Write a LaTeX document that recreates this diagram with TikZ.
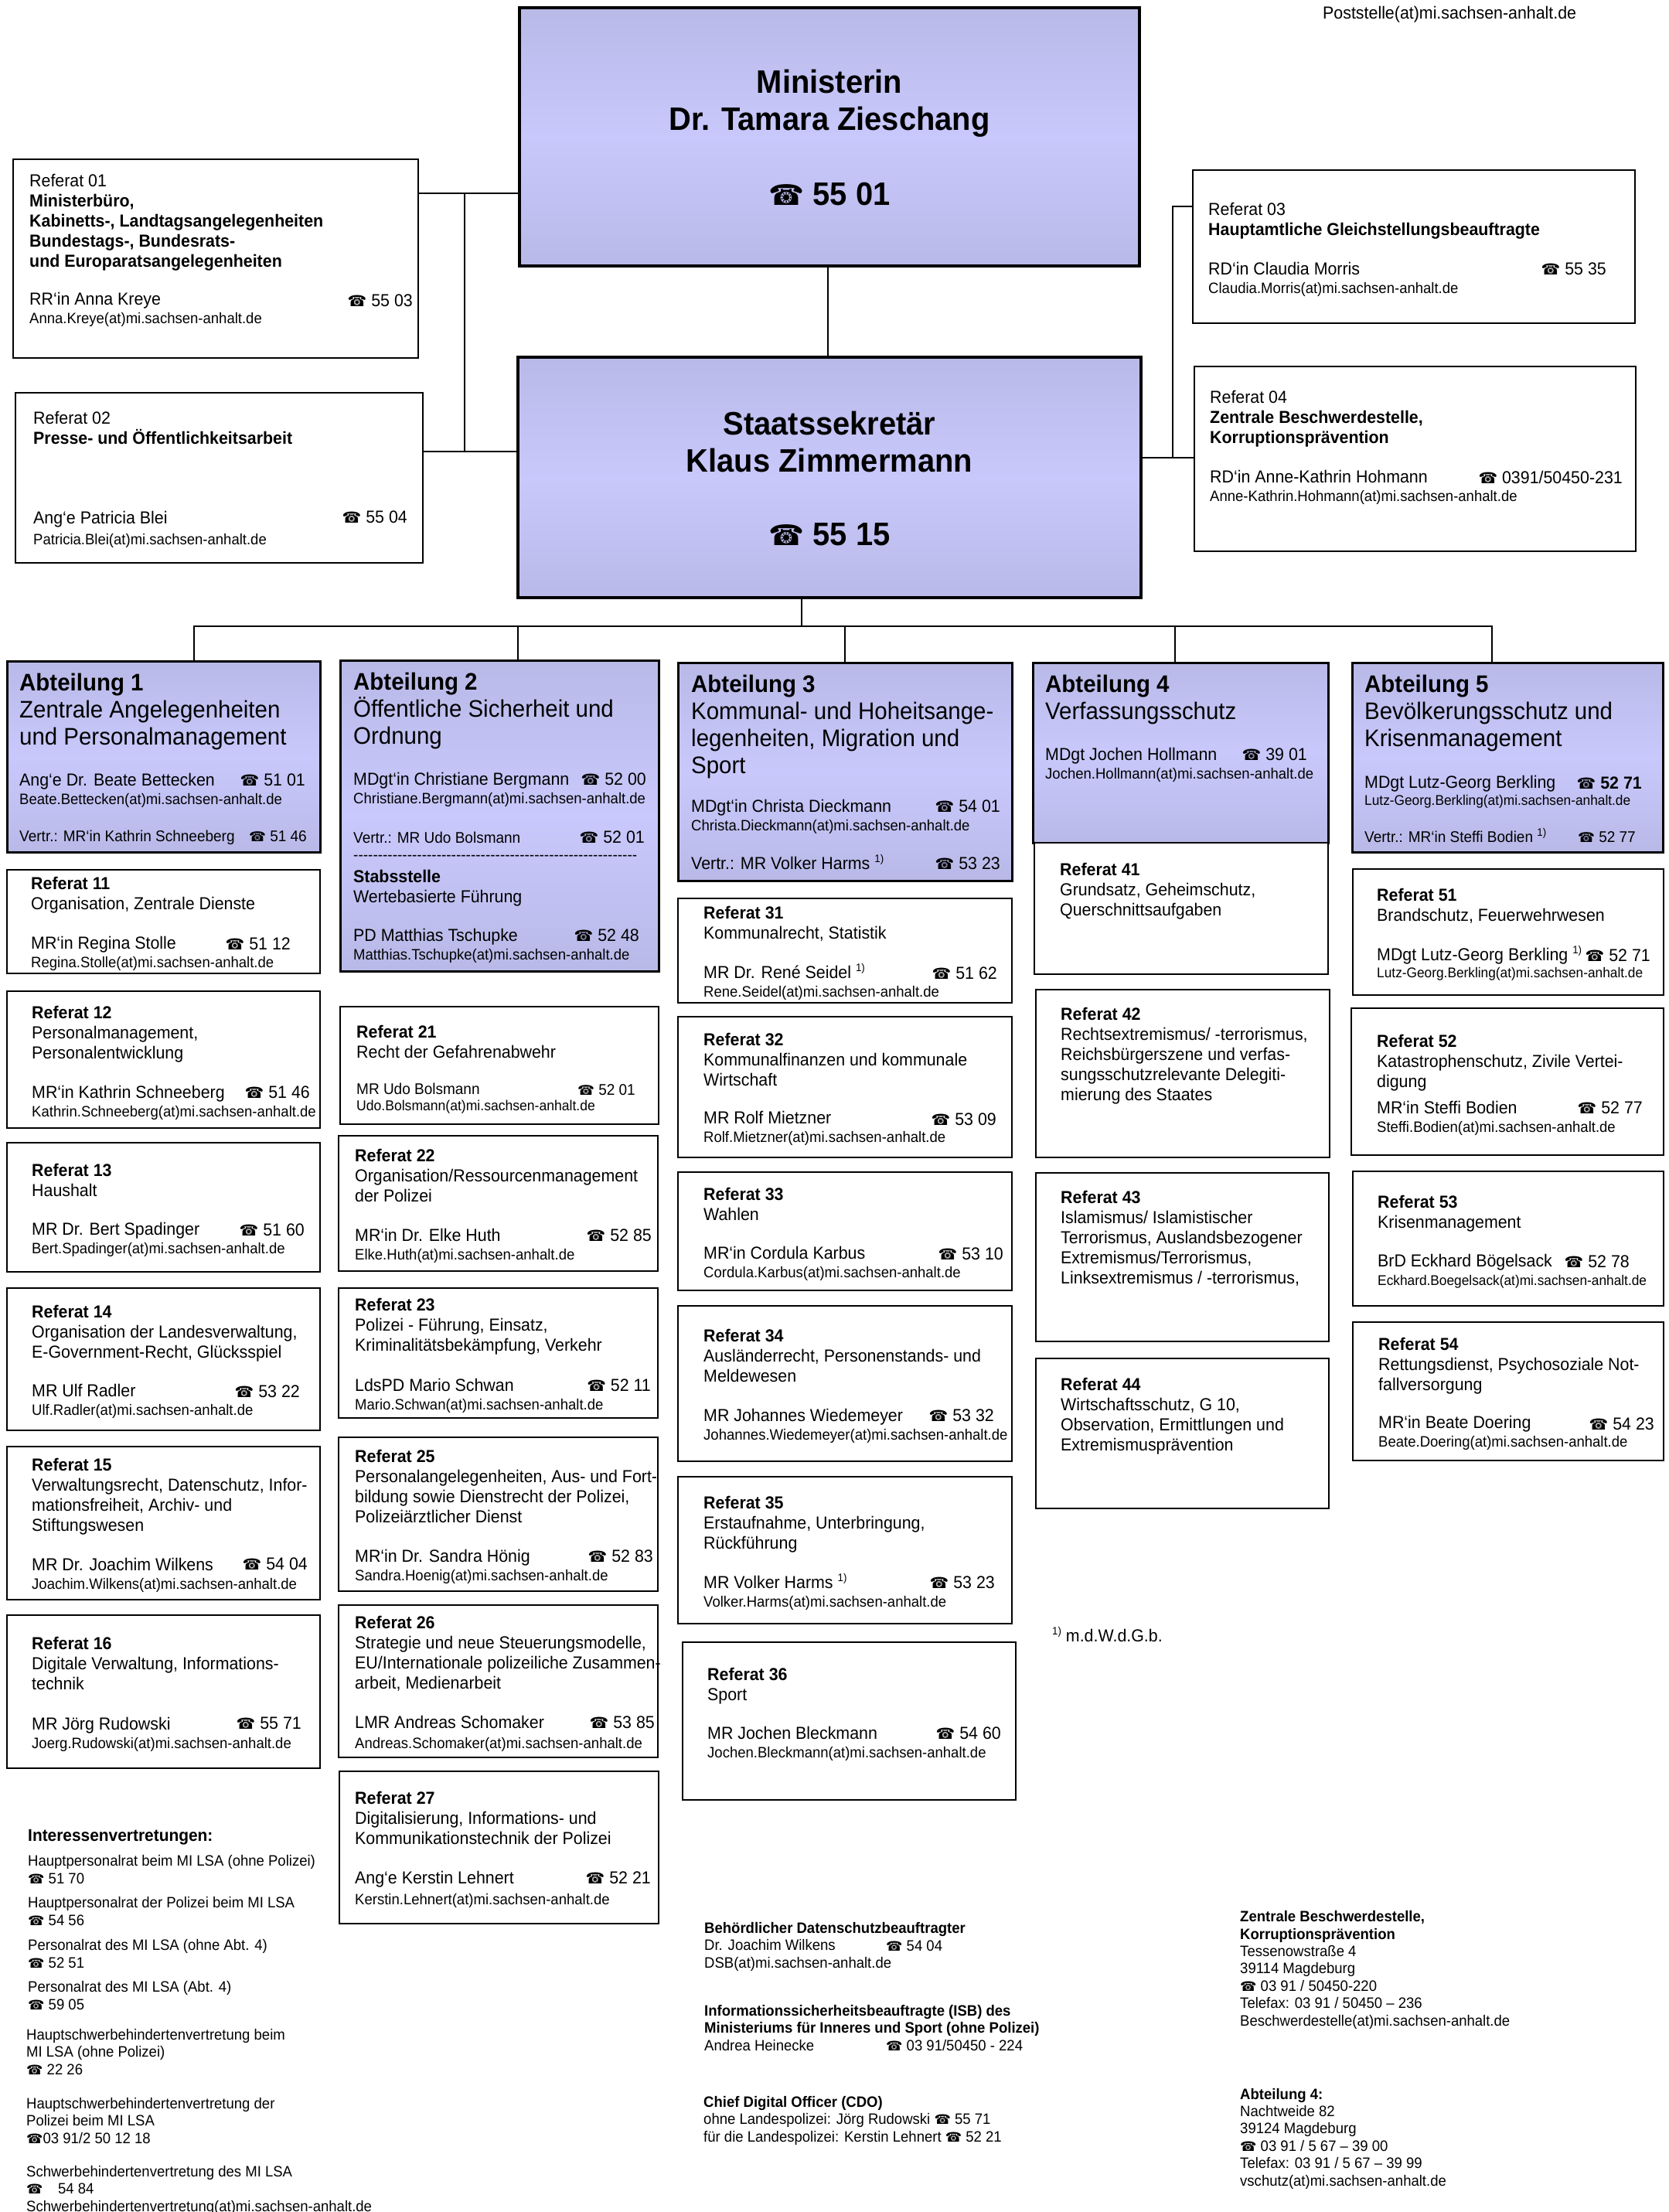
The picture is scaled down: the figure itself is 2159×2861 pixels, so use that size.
\documentclass[tikz,border=0pt]{standalone}
\usepackage{fontspec}
\setmainfont[FakeStretch=0.95]{Liberation Sans}
\newfontfamily\phonefont[Scale=0.88]{DejaVu Sans}
\definecolor{hdtone}{RGB}{185,185,232}
\definecolor{hdlight}{RGB}{200,200,252}
\newcommand{\tel}{{\phonefont ☎}}
\newcommand{\fnmark}{\raisebox{0.38em}{\fontsize{14}{14}\selectfont 1)}}
\newcommand{\mailf}{\fontsize{19.5}{23.5}\selectfont}
\newcommand{\mailg}{\fontsize{18.2}{23.5}\selectfont}
\newcommand{\dashrow}{\foreach \n in {1,...,58}{-\kern0pt}}
\tikzset{
  head box/.style 2 args={
    anchor=north west, inner sep=0pt, outer sep=0pt,
    minimum width=#1pt, minimum height=#2pt,
    draw=black, line width=4.5pt,
    top color=hdtone, bottom color=hdtone, middle color=hdlight,
  },
  abt box/.style 2 args={
    head box={#1}{#2}, line width=3pt,
  },
  ref box/.style 2 args={
    anchor=north west, inner sep=0pt, outer sep=0pt,
    minimum width=#1pt, minimum height=#2pt,
    draw=black, line width=2.5pt, fill=white,
  },
  head text/.style={
    anchor=base, inner sep=0pt, align=center,
    font=\fontsize{42}{48}\selectfont\bfseries,
  },
  abt text/.style={
    anchor=base west, inner sep=0pt, align=left,
    font=\fontsize{31}{35}\selectfont,
  },
  ref text/.style={
    anchor=base west, inner sep=0pt, align=left,
    font=\fontsize{22.5}{26}\selectfont,
  },
  name text/.style={
    anchor=base west, inner sep=0pt, align=left,
    font=\fontsize{22.5}{23.5}\selectfont,
  },
  tel text/.style={
    anchor=base east, inner sep=0pt,
    font=\fontsize{22.5}{24}\selectfont,
  },
  small text/.style={
    anchor=base west, inner sep=0pt, align=left,
    font=\fontsize{20}{24}\selectfont,
  },
  small tel/.style={
    anchor=base east, inner sep=0pt,
    font=\fontsize{20}{24}\selectfont,
  },
  info text/.style={
    anchor=base west, inner sep=0pt, align=left,
    font=\fontsize{19.5}{22.4}\selectfont,
  },
  conn/.style={
    draw=black, line width=2pt,
  },
}
\begin{document}
\begin{tikzpicture}[x=1pt,y=-1pt]
  \useasboundingbox (0,0) rectangle (2159,2861);

  \node [name text] (post) at (1711,25) {Poststelle(at)mi.sachsen-anhalt.de};

  % Leitung
  \node [head box={802}{334}] (min) at (672,10) {};
  \node [head text] (mint) at (1073,168) {Ministerin\\Dr. Tamara Zieschang};
  \node [head text] (minp) at (1073,265) {\tel{} 55 01};
  \node [head box={806}{311}] (sek) at (670,462) {};
  \node [head text] (sekt) at (1073,610) {Staatssekretär\\Klaus Zimmermann};
  \node [head text] (sekp) at (1073,705) {\tel{} 55 15};

  % Stabsreferate
  \node [ref box={524}{257}] (r01) at (17,206) {};
  \node [ref text] (r01t) at (38,345) {Referat 01\\\textbf{Ministerbüro,}\\\textbf{Kabinetts-, Landtagsangelegenheiten}\\\textbf{Bundestags-, Bundesrats-}\\\textbf{und Europaratsangelegenheiten}};
  \node [name text] (r01n) at (38,418) {RR‘in Anna Kreye\\\mailf Anna.Kreye(at)mi.sachsen-anhalt.de};
  \node [tel text] (r01p) at (534,396) {\tel{} 55 03};

  \node [ref box={527}{220}] (r02) at (20,508) {};
  \node [ref text] (r02t) at (43,574) {Referat 02\\\textbf{Presse- und Öffentlichkeitsarbeit}};
  \node [name text] (r02n) at (43,704) {Ang‘e Patricia Blei\\[3pt]\mailf Patricia.Blei(at)mi.sachsen-anhalt.de};
  \node [tel text] (r02p) at (527,676) {\tel{} 55 04};

  \node [ref box={572}{198}] (r03) at (1543,220) {};
  \node [ref text] (r03t) at (1563,304) {Referat 03\\\textbf{Hauptamtliche Gleichstellungsbeauftragte}};
  \node [name text] (r03n) at (1563,379) {RD‘in Claudia Morris\\\mailf Claudia.Morris(at)mi.sachsen-anhalt.de};
  \node [tel text] (r03p) at (2078,355) {\tel{} 55 35};

  \node [ref box={571}{239}] (r04) at (1545,474) {};
  \node [ref text] (r04t) at (1565,573) {Referat 04\\\textbf{Zentrale Beschwerdestelle,}\\\textbf{Korruptionsprävention}};
  \node [name text] (r04n) at (1565,648) {RD‘in Anne-Kathrin Hohmann\\\mailf Anne-Kathrin.Hohmann(at)mi.sachsen-anhalt.de};
  \node [tel text] (r04p) at (2099,625) {\tel{} 0391/50450-231};

  % Abteilungen
  \node [abt box={405}{247}] (a1) at (9,855) {};
  \node [abt text] (a1t) at (25,963) {\textbf{Abteilung 1}\\Zentrale Angelegenheiten\\und Personalmanagement};
  \node [name text] (a1n) at (25,1040) {Ang‘e Dr. Beate Bettecken\\\mailf Beate.Bettecken(at)mi.sachsen-anhalt.de};
  \node [tel text] (a1p) at (395,1016) {\tel{} 51 01};
  \node [small text] (a1v) at (25,1088) {Vertr.: MR‘in Kathrin Schneeberg};
  \node [small tel] (a1w) at (397,1088) {\tel{} 51 46};

  \node [abt box={412}{402}] (a2) at (440,854) {};
  \node [abt text] (a2t) at (457,962) {\textbf{Abteilung 2}\\Öffentliche Sicherheit und\\Ordnung};
  \node [name text] (a2n) at (457,1039) {MDgt‘in Christiane Bergmann\\\mailf Christiane.Bergmann(at)mi.sachsen-anhalt.de};
  \node [tel text] (a2p) at (836,1015) {\tel{} 52 00};
  \node [small text] (a2v) at (457,1090) {Vertr.: MR Udo Bolsmann};
  \node [tel text] (a2w) at (834,1090) {\tel{} 52 01};
  \node [small text] (a2d) at (457,1112) {\dashrow};
  \node [ref text] (a2s) at (457,1167) {\textbf{Stabsstelle}\\Wertebasierte Führung};
  \node [name text] (a2m) at (457,1241) {PD Matthias Tschupke\\\mailf Matthias.Tschupke(at)mi.sachsen-anhalt.de};
  \node [tel text] (a2q) at (827,1217) {\tel{} 52 48};

  \node [abt box={432}{282}] (a3) at (877,857) {};
  \node [abt text] (a3t) at (894,1000) {\textbf{Abteilung 3}\\Kommunal- und Hoheitsange-\\legenheiten, Migration und\\Sport};
  \node [name text] (a3n) at (894,1074) {MDgt‘in Christa Dieckmann\\\mailf Christa.Dieckmann(at)mi.sachsen-anhalt.de};
  \node [tel text] (a3p) at (1294,1050) {\tel{} 54 01};
  \node [name text] (a3v) at (894,1124) {Vertr.: MR Volker Harms \fnmark};
  \node [tel text] (a3w) at (1294,1124) {\tel{} 53 23};

  \node [abt box={382}{233}] (a4) at (1336,857) {};
  \node [abt text] (a4t) at (1352,930) {\textbf{Abteilung 4}\\Verfassungsschutz};
  \node [name text] (a4n) at (1352,1007) {MDgt Jochen Hollmann\\\mailf Jochen.Hollmann(at)mi.sachsen-anhalt.de};
  \node [tel text] (a4p) at (1691,983) {\tel{} 39 01};

  \node [abt box={402}{245}] (a5) at (1749,857) {};
  \node [abt text] (a5t) at (1765,965) {\textbf{Abteilung 5}\\Bevölkerungsschutz und\\Krisenmanagement};
  \node [name text] (a5n) at (1765,1041) {MDgt Lutz-Georg Berkling\\[-2pt]\mailg Lutz-Georg.Berkling(at)mi.sachsen-anhalt.de};
  \node [tel text] (a5p) at (2124,1020) {\textbf{\tel{} 52 71}};
  \node [small text] (a5v) at (1765,1089) {Vertr.: MR‘in Steffi Bodien \fnmark};
  \node [small tel] (a5w) at (2116,1089) {\tel{} 52 77};

  % Abteilung 1
  \node [ref box={405}{134}] (r11) at (9,1125) {};
  \node [ref text] (r11t) at (40,1176) {\textbf{Referat 11}\\Organisation, Zentrale Dienste};
  \node [name text] (r11n) at (40,1251) {MR‘in Regina Stolle\\\mailf Regina.Stolle(at)mi.sachsen-anhalt.de};
  \node [tel text] (r11p) at (376,1228) {\tel{} 51 12};

  \node [ref box={405}{177}] (r12) at (9,1282) {};
  \node [ref text] (r12t) at (41,1369) {\textbf{Referat 12}\\Personalmanagement,\\Personalentwicklung};
  \node [name text] (r12n) at (41,1444) {MR‘in Kathrin Schneeberg\\\mailf Kathrin.Schneeberg(at)mi.sachsen-anhalt.de};
  \node [tel text] (r12p) at (401,1420) {\tel{} 51 46};

  \node [ref box={405}{167}] (r13) at (9,1478) {};
  \node [ref text] (r13t) at (41,1547) {\textbf{Referat 13}\\Haushalt};
  \node [name text] (r13n) at (41,1621) {MR Dr. Bert Spadinger\\\mailf Bert.Spadinger(at)mi.sachsen-anhalt.de};
  \node [tel text] (r13p) at (394,1598) {\tel{} 51 60};

  \node [ref box={405}{184}] (r14) at (9,1666) {};
  \node [ref text] (r14t) at (41,1756) {\textbf{Referat 14}\\Organisation der Landesverwaltung,\\E-Government-Recht, Glücksspiel};
  \node [name text] (r14n) at (41,1830) {MR Ulf Radler\\\mailf Ulf.Radler(at)mi.sachsen-anhalt.de};
  \node [tel text] (r14p) at (388,1807) {\tel{} 53 22};

  \node [ref box={405}{198}] (r15) at (9,1871) {};
  \node [ref text] (r15t) at (41,1980) {\textbf{Referat 15}\\Verwaltungsrecht, Datenschutz, Infor-\\mationsfreiheit, Archiv- und\\Stiftungswesen};
  \node [name text] (r15n) at (41,2055) {MR Dr. Joachim Wilkens\\\mailf Joachim.Wilkens(at)mi.sachsen-anhalt.de};
  \node [tel text] (r15p) at (398,2030) {\tel{} 54 04};

  \node [ref box={405}{198}] (r16) at (9,2089) {};
  \node [ref text] (r16t) at (41,2185) {\textbf{Referat 16}\\Digitale Verwaltung, Informations-\\technik};
  \node [name text] (r16n) at (41,2261) {MR Jörg Rudowski\\\mailf Joerg.Rudowski(at)mi.sachsen-anhalt.de};
  \node [tel text] (r16p) at (390,2236) {\tel{} 55 71};

  % Abteilung 2
  \node [ref box={412}{152}] (r21) at (440,1302) {};
  \node [ref text] (r21t) at (461,1368) {\textbf{Referat 21}\\Recht der Gefahrenabwehr};
  \node [small text] (r21n) at (461,1436) {MR Udo Bolsmann\\[-3pt]\fontsize{18.5}{24}\selectfont Udo.Bolsmann(at)mi.sachsen-anhalt.de};
  \node [small tel] (r21p) at (822,1416) {\tel{} 52 01};

  \node [ref box={413}{175}] (r22) at (438,1469) {};
  \node [ref text] (r22t) at (459,1554) {\textbf{Referat 22}\\Organisation/Ressourcenmanagement\\der Polizei};
  \node [name text] (r22n) at (459,1629) {MR‘in Dr. Elke Huth\\\mailf Elke.Huth(at)mi.sachsen-anhalt.de};
  \node [tel text] (r22p) at (843,1605) {\tel{} 52 85};

  \node [ref box={413}{168}] (r23) at (438,1666) {};
  \node [ref text] (r23t) at (459,1747) {\textbf{Referat 23}\\Polizei - Führung, Einsatz,\\Kriminalitätsbekämpfung, Verkehr};
  \node [name text] (r23n) at (459,1823) {LdsPD Mario Schwan\\\mailf Mario.Schwan(at)mi.sachsen-anhalt.de};
  \node [tel text] (r23p) at (842,1799) {\tel{} 52 11};

  \node [ref box={413}{199}] (r25) at (438,1859) {};
  \node [ref text] (r25t) at (459,1969) {\textbf{Referat 25}\\Personalangelegenheiten, Aus- und Fort-\\bildung sowie Dienstrecht der Polizei,\\Polizeiärztlicher Dienst};
  \node [name text] (r25n) at (459,2044) {MR‘in Dr. Sandra Hönig\\\mailf Sandra.Hoenig(at)mi.sachsen-anhalt.de};
  \node [tel text] (r25p) at (845,2020) {\tel{} 52 83};

  \node [ref box={413}{197}] (r26) at (438,2076) {};
  \node [ref text] (r26t) at (459,2184) {\textbf{Referat 26}\\Strategie und neue Steuerungsmodelle,\\EU/Internationale polizeiliche Zusammen-\\arbeit, Medienarbeit};
  \node [name text] (r26n) at (459,2261) {LMR Andreas Schomaker\\[2pt]\mailf Andreas.Schomaker(at)mi.sachsen-anhalt.de};
  \node [tel text] (r26p) at (847,2235) {\tel{} 53 85};

  \node [ref box={413}{197}] (r27) at (439,2291) {};
  \node [ref text] (r27t) at (459,2385) {\textbf{Referat 27}\\Digitalisierung, Informations- und\\Kommunikationstechnik der Polizei};
  \node [name text] (r27n) at (459,2463) {Ang‘e Kerstin Lehnert\\[3pt]\mailf Kerstin.Lehnert(at)mi.sachsen-anhalt.de};
  \node [tel text] (r27p) at (842,2436) {\tel{} 52 21};

  % Abteilung 3
  \node [ref box={432}{135}] (r31) at (877,1162) {};
  \node [ref text] (r31t) at (910,1214) {\textbf{Referat 31}\\Kommunalrecht, Statistik};
  \node [name text] (r31n) at (910,1289) {MR Dr. René Seidel \fnmark\\\mailf Rene.Seidel(at)mi.sachsen-anhalt.de};
  \node [tel text] (r31p) at (1290,1266) {\tel{} 51 62};

  \node [ref box={432}{182}] (r32) at (877,1315) {};
  \node [ref text] (r32t) at (910,1404) {\textbf{Referat 32}\\Kommunalfinanzen und kommunale\\Wirtschaft};
  \node [name text] (r32n) at (910,1477) {MR Rolf Mietzner\\\mailf Rolf.Mietzner(at)mi.sachsen-anhalt.de};
  \node [tel text] (r32p) at (1289,1455) {\tel{} 53 09};

  \node [ref box={432}{153}] (r33) at (877,1516) {};
  \node [ref text] (r33t) at (910,1578) {\textbf{Referat 33}\\Wahlen};
  \node [name text] (r33n) at (910,1652) {MR‘in Cordula Karbus\\\mailf Cordula.Karbus(at)mi.sachsen-anhalt.de};
  \node [tel text] (r33p) at (1298,1629) {\tel{} 53 10};

  \node [ref box={432}{201}] (r34) at (877,1689) {};
  \node [ref text] (r34t) at (910,1787) {\textbf{Referat 34}\\Ausländerrecht, Personenstands- und\\Meldewesen};
  \node [name text] (r34n) at (910,1862) {MR Johannes Wiedemeyer\\\mailf Johannes.Wiedemeyer(at)mi.sachsen-anhalt.de};
  \node [tel text] (r34p) at (1286,1838) {\tel{} 53 32};

  \node [ref box={432}{190}] (r35) at (877,1910) {};
  \node [ref text] (r35t) at (910,2003) {\textbf{Referat 35}\\Erstaufnahme, Unterbringung,\\Rückführung};
  \node [name text] (r35n) at (910,2078) {MR Volker Harms \fnmark\\\mailf Volker.Harms(at)mi.sachsen-anhalt.de};
  \node [tel text] (r35p) at (1287,2054) {\tel{} 53 23};

  \node [ref box={431}{204}] (r36) at (883,2124) {};
  \node [ref text] (r36t) at (915,2199) {\textbf{Referat 36}\\Sport};
  \node [name text] (r36n) at (915,2273) {MR Jochen Bleckmann\\\mailf Jochen.Bleckmann(at)mi.sachsen-anhalt.de};
  \node [tel text] (r36p) at (1295,2249) {\tel{} 54 60};

  % Abteilung 4
  \node [ref box={380}{170}] (r41) at (1338,1090) {};
  \node [ref text] (r41t) at (1371,1184) {\textbf{Referat 41}\\Grundsatz, Geheimschutz,\\Querschnittsaufgaben};
  \node [ref box={380}{217}] (r42) at (1340,1280) {};
  \node [ref text] (r42t) at (1372,1423) {\textbf{Referat 42}\\Rechtsextremismus/ -terrorismus,\\Reichsbürgerszene und verfas-\\sungsschutzrelevante Delegiti-\\mierung des Staates};
  \node [ref box={379}{218}] (r43) at (1340,1517) {};
  \node [ref text] (r43t) at (1372,1660) {\textbf{Referat 43}\\Islamismus/ Islamistischer\\Terrorismus, Auslandsbezogener\\Extremismus/Terrorismus,\\Linksextremismus / -terrorismus,};
  \node [ref box={379}{194}] (r44) at (1340,1757) {};
  \node [ref text] (r44t) at (1372,1876) {\textbf{Referat 44}\\Wirtschaftsschutz, G 10,\\Observation, Ermittlungen und\\Extremismusprävention};

  \node [name text] (fn) at (1361,2123) {\fnmark{} m.d.W.d.G.b.};

  % Abteilung 5
  \node [ref box={402}{163}] (r51) at (1750,1124) {};
  \node [ref text] (r51t) at (1781,1191) {\textbf{Referat 51}\\Brandschutz, Feuerwehrwesen};
  \node [name text] (r51n) at (1781,1264) {MDgt Lutz-Georg Berkling \fnmark\\[-2pt]\mailg Lutz-Georg.Berkling(at)mi.sachsen-anhalt.de};
  \node [tel text] (r51p) at (2135,1243) {\tel{} 52 71};

  \node [ref box={404}{190}] (r52) at (1748,1304) {};
  \node [ref text] (r52t) at (1781,1406) {\textbf{Referat 52}\\Katastrophenschutz, Zivile Vertei-\\digung};
  \node [name text] (r52n) at (1781,1464) {MR‘in Steffi Bodien\\\mailf Steffi.Bodien(at)mi.sachsen-anhalt.de};
  \node [tel text] (r52p) at (2125,1440) {\tel{} 52 77};

  \node [ref box={402}{174}] (r53) at (1750,1515) {};
  \node [ref text] (r53t) at (1782,1588) {\textbf{Referat 53}\\Krisenmanagement};
  \node [name text] (r53n) at (1782,1662) {BrD Eckhard Bögelsack\\\mailg Eckhard.Boegelsack(at)mi.sachsen-anhalt.de};
  \node [tel text] (r53p) at (2108,1639) {\tel{} 52 78};

  \node [ref box={402}{179}] (r54) at (1750,1710) {};
  \node [ref text] (r54t) at (1783,1798) {\textbf{Referat 54}\\Rettungsdienst, Psychosoziale Not-\\fallversorgung};
  \node [name text] (r54n) at (1783,1871) {MR‘in Beate Doering\\\mailf Beate.Doering(at)mi.sachsen-anhalt.de};
  \node [tel text] (r54p) at (2140,1849) {\tel{} 54 23};

  % Interessenvertretungen
  \node [info text] (iv0) at (36,2381) {\textbf{\fontsize{22}{24}\selectfont Interessenvertretungen:}};
  \node [info text] (iv1) at (36,2436) {Hauptpersonalrat beim MI LSA (ohne Polizei)\\\tel{} 51 70};
  \node [info text] (iv2) at (36,2490) {Hauptpersonalrat der Polizei beim MI LSA\\\tel{} 54 56};
  \node [info text] (iv3) at (36,2545) {Personalrat des MI LSA (ohne Abt. 4)\\\tel{} 52 51};
  \node [info text] (iv4) at (36,2599) {Personalrat des MI LSA (Abt. 4)\\\tel{} 59 05};
  \node [info text] (iv5) at (34,2683) {Hauptschwerbehindertenvertretung beim\\MI LSA (ohne Polizei)\\\tel{} 22 26};
  \node [info text] (iv6) at (34,2772) {Hauptschwerbehindertenvertretung der\\Polizei beim MI LSA\\\tel{}03 91/2 50 12 18};
  \node [info text] (iv7) at (34,2860) {Schwerbehindertenvertretung des MI LSA\\\tel{}\quad 54 84\\Schwerbehindertenvertretung(at)mi.sachsen-anhalt.de};

  % Beauftragte
  \node [info text] (dsb) at (911,2545) {\textbf{Behördlicher Datenschutzbeauftragter}\\Dr. Joachim Wilkens\\DSB(at)mi.sachsen-anhalt.de};
  \node [info text] (dsbp) at (1146,2523) {\tel{} 54 04};
  \node [info text] (isb) at (911,2652) {\textbf{Informationssicherheitsbeauftragte (ISB) des}\\\textbf{Ministeriums für Inneres und Sport (ohne Polizei)}\\Andrea Heinecke};
  \node [info text] (isbp) at (1146,2652) {\tel{} 03 91/50450 - 224};
  \node [info text] (cdo) at (910,2770) {\textbf{Chief Digital Officer (CDO)}\\ohne Landespolizei: Jörg Rudowski \tel{} 55 71\\für die Landespolizei: Kerstin Lehnert \tel{} 52 21};

  \node [info text] (zbs) at (1604,2620) {\textbf{Zentrale Beschwerdestelle,}\\\textbf{Korruptionsprävention}\\Tessenowstraße 4\\39114 Magdeburg\\\tel{} 03 91 / 50450-220\\Telefax: 03 91 / 50450 – 236\\Beschwerdestelle(at)mi.sachsen-anhalt.de};
  \node [info text] (abv) at (1604,2827) {\textbf{Abteilung 4:}\\Nachtweide 82\\39124 Magdeburg\\\tel{} 03 91 / 5 67 – 39 00\\Telefax: 03 91 / 5 67 – 39 99\\vschutz(at)mi.sachsen-anhalt.de};

  % Verbindungen
  \coordinate (j1) at (601,250);
  \coordinate (j2) at (601,584);
  \coordinate (j3) at (1517,592);
  \coordinate (j4) at (1517,267);
  \coordinate (bus) at (1037,810);
  \draw [conn] (r01.east |- j1) -- (min.west |- j1);
  \draw [conn] (r02.east |- j2) -- (sek.west |- j2);
  \draw [conn] (j1) -- (j2);
  \draw [conn] (sek.east |- j3) -- (j3) -- (r04.west |- j3);
  \draw [conn] (j3) -- (j4) -- (r03.west |- j4);
  \draw [conn] ([xshift=-2pt]min.south) -- ([xshift=-2pt]sek.north);
  \coordinate (c1) at (251,810);
  \coordinate (c2) at (670,810);
  \coordinate (c3) at (1093,810);
  \coordinate (c4) at (1520,810);
  \coordinate (c5) at (1930,810);
  \draw [conn] (bus |- sek.south) -- (bus);
  \draw [conn] (a1.north -| c1) -- (c1) -- (c5) -- (a5.north -| c5);
  \draw [conn] (c2) -- (a2.north -| c2);
  \draw [conn] (c3) -- (a3.north -| c3);
  \draw [conn] (c4) -- (a4.north -| c4);
\end{tikzpicture}
\end{document}
